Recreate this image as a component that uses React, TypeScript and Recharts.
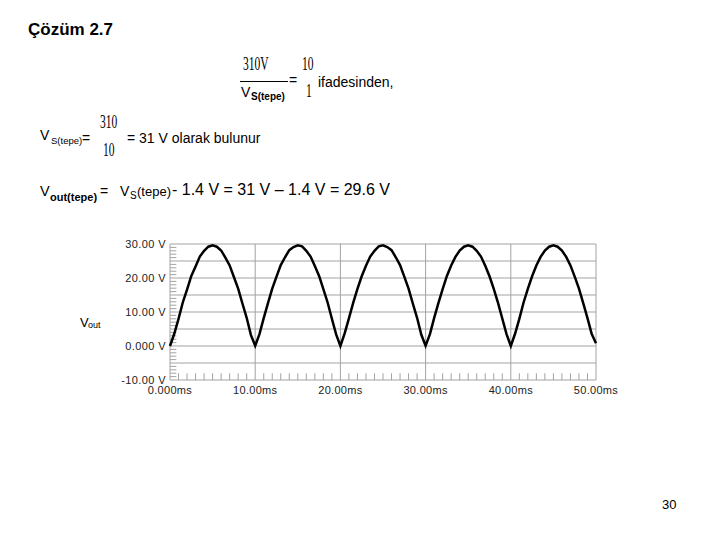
import React from "react";
import {
  LineChart,
  Line,
  XAxis,
  YAxis,
  CartesianGrid,
  ReferenceLine,
} from "recharts";

// time axis in ms, 0.5 ms steps
const timeMs = [
  0, 0.5, 1, 1.5, 2, 2.5, 3, 3.5, 4, 4.5, 5, 5.5, 6, 6.5, 7, 7.5, 8, 8.5, 9, 9.5,
  10, 10.5, 11, 11.5, 12, 12.5, 13, 13.5, 14, 14.5, 15, 15.5, 16, 16.5, 17, 17.5, 18, 18.5, 19, 19.5,
  20, 20.5, 21, 21.5, 22, 22.5, 23, 23.5, 24, 24.5, 25, 25.5, 26, 26.5, 27, 27.5, 28, 28.5, 29, 29.5,
  30, 30.5, 31, 31.5, 32, 32.5, 33, 33.5, 34, 34.5, 35, 35.5, 36, 36.5, 37, 37.5, 38, 38.5, 39, 39.5,
  40, 40.5, 41, 41.5, 42, 42.5, 43, 43.5, 44, 44.5, 45, 45.5, 46, 46.5, 47, 47.5, 48, 48.5, 49, 49.5,
  50,
];

// Vout (V)
const vout = [
  0.0, 3.6, 8.0, 12.8, 16.6, 20.6, 23.4, 26.3, 28.0, 29.2, 29.6, 29.2, 28.1, 26.0, 23.7, 20.3, 16.9, 12.5, 8.3, 3.2,
  0.1, 3.5, 8.2, 12.6, 16.9, 20.4, 23.8, 26.1, 28.2, 29.1, 29.6, 29.3, 28.0, 26.3, 23.5, 20.6, 16.7, 12.8, 8.0, 3.4,
  0.0, 3.7, 8.1, 12.7, 16.8, 20.5, 23.6, 26.3, 28.0, 29.3, 29.6, 29.1, 28.2, 26.1, 23.8, 20.4, 16.9, 12.5, 8.3, 3.3,
  0.1, 3.4, 8.2, 12.6, 16.7, 20.6, 23.7, 26.2, 28.1, 29.2, 29.6, 29.2, 28.0, 26.3, 23.6, 20.5, 16.8, 12.7, 8.1, 3.5,
  0.0, 3.6, 8.0, 12.8, 16.8, 20.5, 23.7, 26.2, 28.1, 29.2, 29.6, 29.2, 28.1, 26.2, 23.7, 20.4, 16.9, 12.6, 8.2, 3.5,
  0.8,
];

const xTicks = [0, 10, 20, 30, 40, 50];
const xTickLabels = ["0.000ms", "10.00ms", "20.00ms", "30.00ms", "40.00ms", "50.00ms"];
const yTicks = [-10, 0, 10, 20, 30];
const yTickLabels = ["-10.00 V", "0.000 V", "10.00 V", "20.00 V", "30.00 V"];
const gridY = [-10, -5, 0, 5, 10, 15, 20, 25, 30];
const minorX = [1, 2, 3, 4, 5, 6, 7, 8, 9, 11, 12, 13, 14, 15, 16, 17, 18, 19, 21, 22, 23, 24, 25, 26, 27, 28, 29, 31, 32, 33, 34, 35, 36, 37, 38, 39, 41, 42, 43, 44, 45, 46, 47, 48, 49];
const minorY = [-9, -8, -7, -6, -4, -3, -2, -1, 1, 2, 3, 4, 6, 7, 8, 9, 11, 12, 13, 14, 16, 17, 18, 19, 21, 22, 23, 24, 26, 27, 28, 29];

const data = timeMs.map((t, i) => ({ t, v: vout[i] }));

const SANS = "'Liberation Sans', Arial, sans-serif";
const SERIF = "'Liberation Serif', 'Times New Roman', serif";
const GRID = "#a3a3a3";

function T({ x, y, size = 14, bold = false, serif = false, narrow = false, children }: any) {
  return (
    <span
      style={{
        position: "absolute",
        left: x,
        top: y,
        fontSize: size,
        lineHeight: 1,
        fontWeight: bold ? "bold" : "normal",
        fontFamily: serif ? SERIF : SANS,
        whiteSpace: "nowrap",
        color: "#000",
        transform: narrow ? "scaleX(0.64)" : undefined,
        transformOrigin: "left top",
      }}
    >
      {children}
    </span>
  );
}

export default function App() {
  return (
    <div
      style={{
        position: "absolute",
        left: 0,
        top: 0,
        width: 720,
        height: 540,
        background: "#fff",
        overflow: "hidden",
      }}
    >
      {/* title */}
      <T x={28} y={21} size={17} bold>Çözüm 2.7</T>

      {/* 310V / VS(tepe) = 10 / 1 */}
      <T x={243} y={55} size={18} serif narrow>310V</T>
      <div style={{ position: "absolute", left: 240, top: 81, width: 48, height: 1, background: "#000" }} />
      <T x={241} y={85} size={14}>V</T>
      <T x={251} y={92} size={10} bold>S(tepe)</T>
      <T x={289} y={73} size={14}>=</T>
      <T x={302} y={55} size={18} serif narrow>10</T>
      <T x={306} y={82} size={18} serif narrow>1</T>
      <T x={318} y={75} size={14}>ifadesinden,</T>

      {/* VS(tepe) = 310/10 */}
      <T x={40} y={128} size={14}>V</T>
      <T x={51} y={136} size={9.5}>S(tepe)</T>
      <T x={82} y={131} size={14}>=</T>
      <T x={100} y={113} size={18} serif narrow>310</T>
      <T x={103} y={141} size={18} serif narrow>10</T>
      <T x={127} y={131} size={14}>= 31 V olarak bulunur</T>

      {/* Vout(tepe) */}
      <T x={40} y={184} size={14.5}>V</T>
      <T x={50} y={192} size={11} bold>out(tepe)</T>
      <T x={100} y={184} size={14}>=</T>
      <T x={120} y={184} size={14}>V</T>
      <T x={130} y={191} size={10}>S</T>
      <T x={137} y={185} size={13}>(tepe)</T>
      <T x={172} y={182} size={16}>- 1.4 V = 31 V – 1.4 V = 29.6 V</T>

      {/* y label */}
      <T x={80} y={316} size={13}>V</T>
      <T x={88} y={321} size={9}>out</T>

      <div style={{ position: "absolute", left: 70, top: 230 }}>
        <LineChart
          width={560}
          height={180}
          data={data}
          margin={{ top: 14, right: 34, left: 0, bottom: 0 }}
        >
          <CartesianGrid
            stroke={GRID}
            strokeWidth={1}
            horizontalValues={gridY}
            verticalValues={xTicks}
          />
          <XAxis
            dataKey="t"
            type="number"
            domain={[0, 50]}
            ticks={xTicks}
            tickFormatter={(v: number) => xTickLabels[xTicks.indexOf(v)]}
            axisLine={false}
            tickLine={false}
            tickSize={4}
            tickMargin={2}
            height={30}
            tick={{ fill: "#222", fontSize: 11, fontFamily: SANS, letterSpacing: 0.3 }}
          />
          <YAxis
            type="number"
            domain={[-10, 30]}
            ticks={yTicks}
            tickFormatter={(v: number) => yTickLabels[yTicks.indexOf(v)]}
            axisLine={false}
            tickLine={false}
            tickSize={4}
            tickMargin={0}
            width={100}
            tick={{ fill: "#222", fontSize: 11, fontFamily: SANS, letterSpacing: 0.4 }}
          />
          {minorX.map((m) => (
            <ReferenceLine
              key={"mx" + m}
              segment={[{ x: m, y: -10 }, { x: m, y: -8 }]}
              stroke={GRID}
            />
          ))}
          {minorY.map((m) => (
            <ReferenceLine
              key={"my" + m}
              segment={[{ x: 0, y: m }, { x: 0.75, y: m }]}
              stroke={GRID}
            />
          ))}
          <Line
            type="linear"
            dataKey="v"
            stroke="#000"
            strokeWidth={2.5}
            dot={false}
            isAnimationActive={false}
          />
        </LineChart>
      </div>

      {/* page number */}
      <T x={662} y={498} size={13}>30</T>
    </div>
  );
}
